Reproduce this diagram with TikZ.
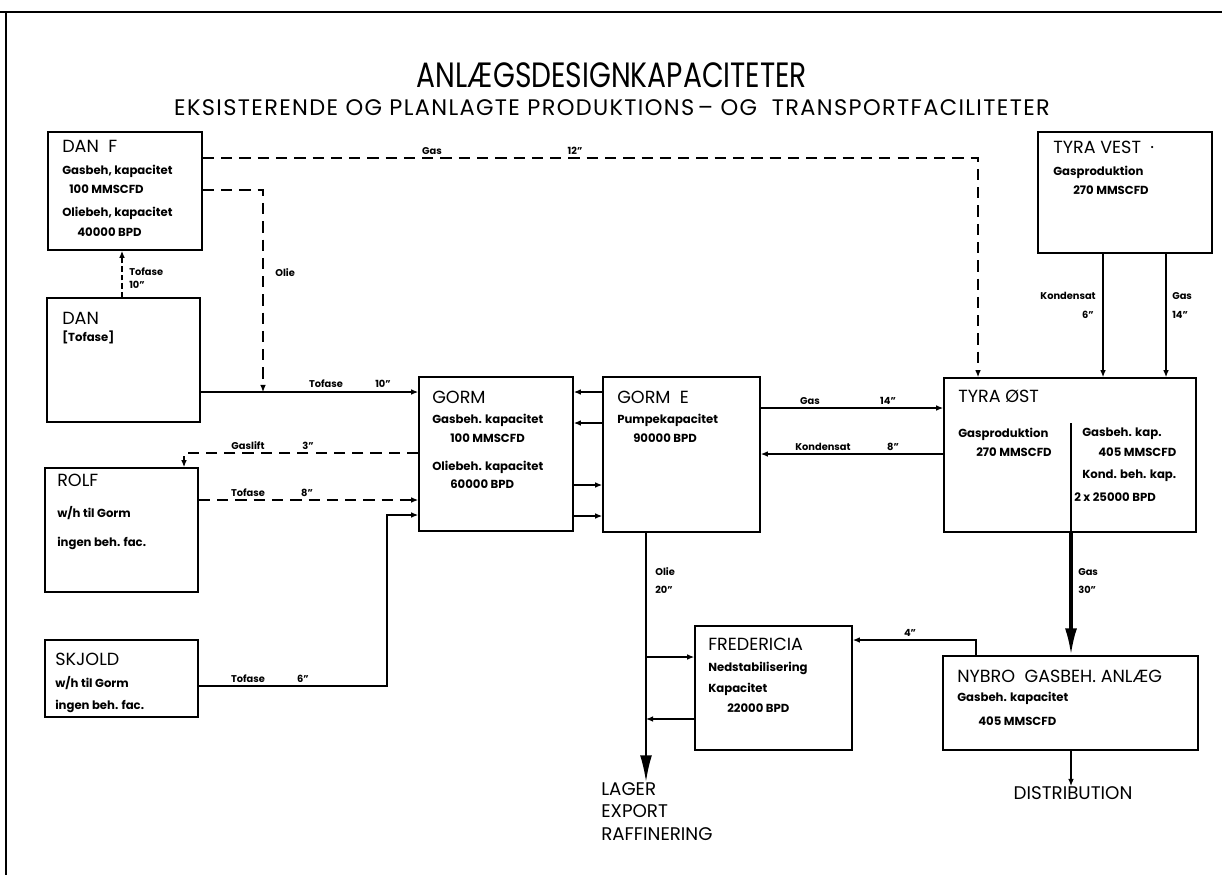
\documentclass[tikz,border=0pt]{standalone}
\usepackage{fontspec}
\setmainfont{Poppins}
\newfontfamily\titlefont[FakeStretch=0.8]{Poppins}
\newfontfamily\subfont[LetterSpace=6]{Poppins}
\usetikzlibrary{arrows.meta,fit}

\begin{document}
\begin{tikzpicture}[x=0.025cm, y=-0.025cm,
    box/.style={draw, line width=1.2pt, inner sep=0pt},
    head/.style={anchor=west, inner sep=0pt, font=\fontsize{12.5}{14}\selectfont},
    txt/.style={anchor=west, inner sep=0pt, font=\fontsize{8.3}{10}\selectfont\bfseries},
    lbl/.style={inner sep=0pt, font=\fontsize{7}{8}\selectfont\bfseries},
    pipe/.style={line width=0.8pt},
    plan/.style={pipe, dash pattern=on 8pt off 5pt},
    big/.style={line width=1.5pt, -{Latex[length=19pt,width=8.5pt]}},
    >={Latex[length=5pt,width=4pt]}]
\useasboundingbox (0,0) rectangle (1222,875);
\draw[line width=1pt] (0,12) -- (1222,12) (6,12) -- (6,875);

\node[font=\titlefont\fontsize{25}{27}\selectfont] (title) at (612,75) {ANLÆGSDESIGNKAPACITETER};
\node[font=\subfont\fontsize{16}{18}\selectfont] (subtitle) at (612,108)
    {EKSISTERENDE OG PLANLAGTE PRODUKTIONS\,– OG\ \ TRANSPORTFACILITETER};

\node[box, fit={(48,132) (202,250)}] (danf) {};
\node[box, fit={(47,298) (200,422)}] (dan) {};
\node[box, fit={(45,468) (198,592)}] (rolf) {};
\node[box, fit={(45,640) (198,717)}] (skjold) {};
\node[box, fit={(419,377) (573,531)}] (gorm) {};
\node[box, fit={(603,377) (760,532)}] (gorme) {};
\node[box, fit={(1038,132) (1212,253)}] (tyravest) {};
\node[box, fit={(944,378) (1196,532)}] (tyraost) {};
\node[box, fit={(695,626) (852,750)}] (fred) {};
\node[box, fit={(943,656) (1198,750)}] (nybro) {};

\node[head] (danfT) at (62,146) {DAN\ \ F};
\node[txt] (danf1) at (62,171) {Gasbeh, kapacitet};
\node[txt] (danf2) at (69,189) {100 MMSCFD};
\node[txt] (danf3) at (62,213) {Oliebeh, kapacitet};
\node[txt] (danf4) at (77,232) {40000 BPD};

\node[head] (danT) at (62,318) {DAN};
\node[txt] (dan1) at (62,337) {[Tofase]};

\node[head] (rolfT) at (57,480) {ROLF};
\node[txt] (rolf1) at (57,513) {w/h til Gorm};
\node[txt] (rolf2) at (57,543) {ingen beh. fac.};

\node[head] (skjoldT) at (55,659) {SKJOLD};
\node[txt] (skjold1) at (55,683) {w/h til Gorm};
\node[txt] (skjold2) at (55,706) {ingen beh. fac.};

\node[head] (gormT) at (432,397) {GORM};
\node[txt] (gorm1) at (432,420) {Gasbeh. kapacitet};
\node[txt] (gorm2) at (450,438) {100 MMSCFD};
\node[txt] (gorm3) at (432,467) {Oliebeh. kapacitet};
\node[txt] (gorm4) at (450,484) {60000 BPD};

\node[head] (gormeT) at (617,397) {GORM\ \ E};
\node[txt] (gorme1) at (617,420) {Pumpekapacitet};
\node[txt] (gorme2) at (633,438) {90000 BPD};

\node[head] (tyravestT) at (1053,147) {TYRA VEST\ \ ·};
\node[txt] (tyravest1) at (1053,172) {Gasproduktion};
\node[txt] (tyravest2) at (1073,190) {270 MMSCFD};

\node[head] (tyraostT) at (958,396) {TYRA ØST};
\node[txt] (tyraost1) at (958,434) {Gasproduktion};
\node[txt] (tyraost2) at (976,452) {270 MMSCFD};
\node[txt] (tyraost3) at (1082,434) {Gasbeh. kap.};
\node[txt] (tyraost4) at (1098,452) {405 MMSCFD};
\node[txt] (tyraost5) at (1082,476) {Kond. beh. kap.};
\node[txt] (tyraost6) at (1074,497) {2 x 25000 BPD};

\node[head] (fredT) at (708,644) {FREDERICIA};
\node[txt] (fred1) at (708,668) {Nedstabilisering};
\node[txt] (fred2) at (708,689) {Kapacitet};
\node[txt] (fred3) at (727,708) {22000 BPD};

\node[head] (nybroT) at (957,676) {NYBRO\ \ GASBEH.\ ANLÆG};
\node[txt] (nybro1) at (957,698) {Gasbeh. kapacitet};
\node[txt] (nybro2) at (978,721) {405 MMSCFD};

\node[head, anchor=north west, align=left, font=\fontsize{13}{16}\selectfont] (lager) at (601,782)
    {LAGER\\EXPORT\\RAFFINERING};
\node[head, anchor=north, font=\fontsize{13}{15}\selectfont] (distr) at (1073,786) {DISTRIBUTION};

\coordinate (tee) at (263,392);
\coordinate (oliex) at (646,700);

\draw[plan,->] (danf.east |- 0,158) -- (978,158) -- (tyraost.north -| 978,0);
\draw[plan,->] (danf.east |- 0,190) -- (263,190) -- (tee);
\draw[plan, dash pattern=on 4pt off 2pt, ->] (dan.north -| 122,0) -- (danf.south -| 122,0);
\draw[pipe,->] (dan.east |- tee) -- (gorm.west |- tee);
\draw[plan,->] (gorm.west |- 0,453) -- (184,453) -- (rolf.north -| 184,0);
\draw[plan,->] (rolf.east |- 0,500) -- (gorm.west |- 0,500);
\draw[pipe,->] (skjold.east |- 0,686) -- (387,686) -- (387,515) -- (gorm.west |- 0,515);
\foreach \y in {392,423} \draw[pipe,->] (gorme.west |- 0,\y) -- (gorm.east |- 0,\y);
\foreach \y in {485,516} \draw[pipe,->] (gorm.east |- 0,\y) -- (gorme.west |- 0,\y);
\draw[pipe,->] (gorme.east |- 0,408) -- (tyraost.west |- 0,408);
\draw[pipe,->] (tyraost.west |- 0,454) -- (gorme.east |- 0,454);
\foreach \x in {1103,1166} \draw[pipe,->] (tyravest.south -| \x,0) -- (tyraost.north -| \x,0);
\draw[line width=1pt] (1071,423) -- (tyraost.south -| 1071,0);
\draw[big, line width=2.2pt] (tyraost.south -| 1071,0) -- (nybro.north -| 1071,0);
\draw[big] (gorme.south -| oliex) -- (lager.north -| oliex);
\draw[pipe,->] (oliex |- 0,657) -- (fred.west |- 0,657);
\draw[pipe,->] (fred.west |- 0,719) -- (oliex |- 0,719);
\draw[pipe,->] (nybro.north -| 976,0) -- (976,640) -- (fred.east |- 0,640);
\draw[pipe,->] (nybro.south -| 1071,0) -- (distr.north -| 1071,0);

\node[lbl] (gas12a) at (432,151) {Gas};
\node[lbl] (gas12b) at (575,151) {12"};
\node[lbl, anchor=west] (olie) at (275,273) {Olie};
\node[lbl, anchor=west] (tf10a) at (129,272) {Tofase};
\node[lbl, anchor=west] (tf10b) at (129,285) {10"};
\node[lbl] (tf10c) at (326,384) {Tofase};
\node[lbl] (tf10d) at (383,384) {10"};
\node[lbl] (gaslift) at (248,446) {Gaslift};
\node[lbl] (gaslift3) at (308,446) {3"};
\node[lbl] (tf8a) at (248,493) {Tofase};
\node[lbl] (tf8b) at (307,493) {8"};
\node[lbl] (tf6a) at (248,679) {Tofase};
\node[lbl] (tf6b) at (303,679) {6"};
\node[lbl] (gas14a) at (810,401) {Gas};
\node[lbl] (gas14b) at (888,401) {14"};
\node[lbl] (kond8a) at (823,447) {Kondensat};
\node[lbl] (kond8b) at (893,447) {8"};
\node[lbl, anchor=east] (kond6a) at (1096,296) {Kondensat};
\node[lbl, anchor=east] (kond6b) at (1094,315) {6"};
\node[lbl, anchor=west] (gastva) at (1172,296) {Gas};
\node[lbl, anchor=west] (gastvb) at (1172,315) {14"};
\node[lbl, anchor=west] (olie20a) at (655,572) {Olie};
\node[lbl, anchor=west] (olie20b) at (655,590) {20"};
\node[lbl, anchor=west] (gas30a) at (1078,572) {Gas};
\node[lbl, anchor=west] (gas30b) at (1078,590) {30"};
\node[lbl] (four) at (910,633) {4"};
\end{tikzpicture}
\end{document}
